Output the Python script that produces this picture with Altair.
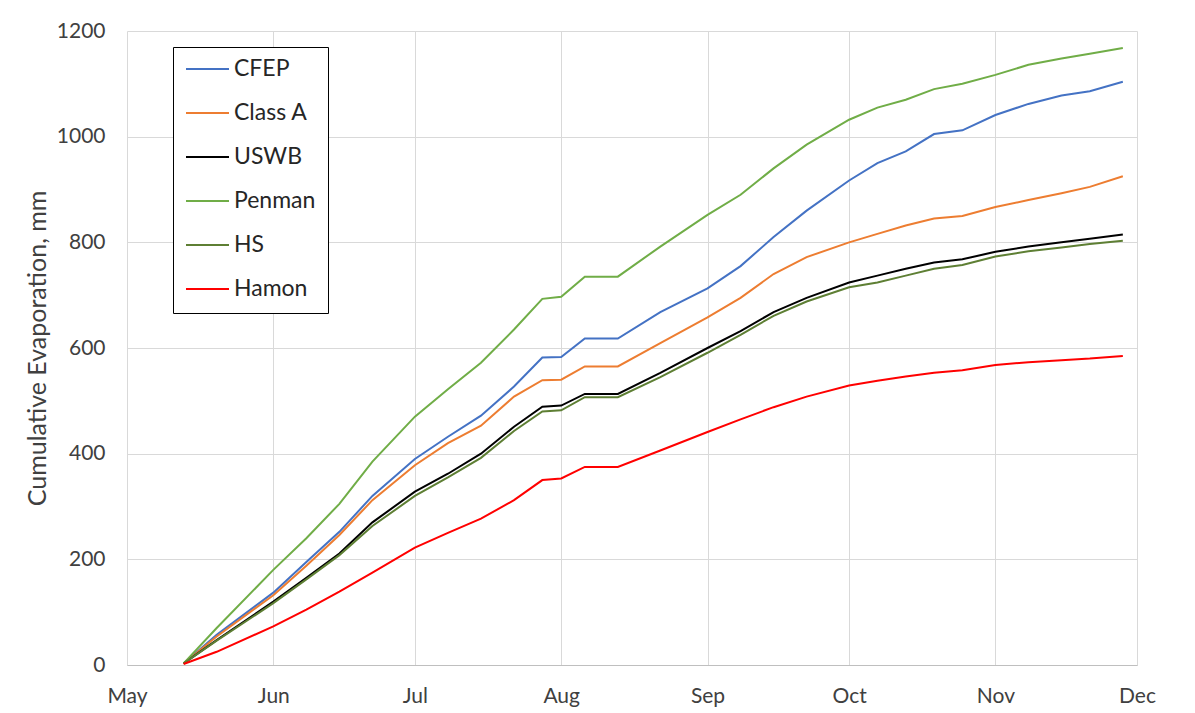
import altair as alt
import pandas as pd

# sample dates
dates = [
    "2019-05-13", "2019-05-20", "2019-06-01", "2019-06-08", "2019-06-15",
    "2019-06-22", "2019-07-01", "2019-07-08", "2019-07-15", "2019-07-22",
    "2019-07-28", "2019-08-01", "2019-08-06", "2019-08-13", "2019-08-22",
    "2019-09-01", "2019-09-08", "2019-09-15", "2019-09-22", "2019-10-01",
    "2019-10-07", "2019-10-13", "2019-10-19", "2019-10-25", "2019-11-01",
    "2019-11-08", "2019-11-15", "2019-11-21", "2019-11-28",
]

cfep = [3, 57, 137, 195, 252, 320, 390, 432, 472, 527, 582, 583, 618, 618, 668,
        713, 755, 810, 860, 917, 950, 972, 1005, 1012, 1041, 1062, 1078, 1086, 1104]
class_a = [3, 54, 132, 188, 246, 312, 378, 420, 453, 508, 539, 540, 565, 565, 609,
           658, 695, 740, 772, 800, 816, 832, 845, 850, 867, 880, 893, 905, 925]
uswb = [3, 47, 120, 165, 211, 270, 328, 362, 400, 451, 489, 491, 513, 513, 553,
        600, 632, 668, 695, 724, 737, 750, 762, 768, 782, 792, 800, 807, 815]
penman = [3, 70, 180, 240, 305, 385, 470, 522, 572, 635, 693, 697, 735, 735, 792,
          852, 890, 940, 985, 1032, 1055, 1070, 1090, 1100, 1117, 1136, 1148, 1157, 1168]
hs = [3, 46, 117, 162, 208, 263, 320, 355, 392, 443, 480, 482, 507, 507, 545,
      591, 625, 661, 688, 715, 724, 737, 750, 757, 773, 783, 790, 797, 803]
hamon = [2, 25, 73, 105, 139, 175, 222, 250, 277, 312, 350, 353, 375, 375, 406,
         441, 465, 488, 508, 529, 538, 546, 553, 558, 568, 573, 577, 580, 585]

methods = ["CFEP", "Class A", "USWB", "Penman", "HS", "Hamon"]
colors = ["#4472C4", "#ED7D31", "#000000", "#70AD47", "#5E7F34", "#FF0000"]
widths = [2, 2, 3, 2, 2, 2]

df = pd.DataFrame({
    "date": pd.to_datetime(dates),
    "CFEP": cfep,
    "Class A": class_a,
    "USWB": uswb,
    "Penman": penman,
    "HS": hs,
    "Hamon": hamon,
}).melt("date", var_name="method", value_name="evap")
df["order"] = df["method"].map({m: i for i, m in enumerate(methods)})

month_ticks = [alt.DateTime(year=2019, month=m, date=1) for m in range(5, 13)]
font = "Lato"

chart = (
    alt.Chart(df)
    .mark_line()
    .encode(
        x=alt.X(
            "date:T",
            title=None,
            scale=alt.Scale(domain=[month_ticks[0], month_ticks[-1]]),
            axis=alt.Axis(values=month_ticks, format="%b", labelAlign="center"),
        ),
        y=alt.Y(
            "evap:Q",
            title="Cumulative Evaporation, mm",
            scale=alt.Scale(domain=[0, 1200]),
            axis=alt.Axis(values=list(range(0, 1201, 200)), format="d", domain=False),
        ),
        color=alt.Color(
            "method:N",
            scale=alt.Scale(domain=methods, range=colors),
            legend=alt.Legend(
                orient="none",
                legendX=46,
                legendY=16,
                title=None,
                symbolType="stroke",
                symbolSize=1849,
                symbolStrokeWidth=2.5,
                clipHeight=20,
                labelFont=font,
                labelFontSize=23,
                labelColor="#262626",
                labelOffset=4,
                rowPadding=21,
                padding=12,
                strokeColor="#000000",
                fillColor="#FFFFFF",
            ),
        ),
        strokeWidth=alt.StrokeWidth(
            "method:N", scale=alt.Scale(domain=methods, range=widths), legend=None
        ),
        order="order:Q",
        detail="method:N",
    )
    .properties(width=1010, height=634, autosize=alt.AutoSizeParams(type="none"),
                padding={"left": 119, "top": 23, "right": 40, "bottom": 48})
    .configure_view(stroke=None)
    .configure_axis(
        labelFont=font,
        labelFontSize=21,
        labelColor="#404040",
        titleFont=font,
        titleFontSize=25,
        titleFontWeight="normal",
        titleColor="#404040",
        gridColor="#D9D9D9",
        gridWidth=1,
        ticks=False,
        domainColor="#BFBFBF",
    )
    .configure_axisX(labelPadding=20)
    .configure_axisY(labelPadding=22, titlePadding=6)
)

chart.save("out.html", embed_options={"renderer": "svg", "actions": False})
